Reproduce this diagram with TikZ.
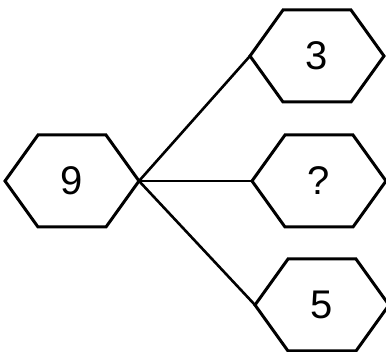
\documentclass[tikz,border=0pt]{standalone}
\usepackage{fontspec}
\setmainfont{Liberation Sans}
\usetikzlibrary{calc}

% one flat-topped hexagon round a number node
\newcommand{\hexcell}[3]{%
  \node[digit] (#1) at (#2) {#3};
  \draw[hexline] ($(#1.center)+(-67,0)$) coordinate (#1-w)
    -- ++(33,-46) -- ++(68,0) -- ++(33,46) coordinate (#1-e)
    -- ++(-33,46) -- ++(-68,0) -- cycle;
}

\begin{document}
\begin{tikzpicture}[x=1pt, y=-1pt,
    digit/.style={inner sep=0pt, font=\fontsize{40}{42}\selectfont},
    hexline/.style={line width=3pt, line join=miter},
    link/.style={line width=2.6pt}
  ]
  \useasboundingbox (0,0) rectangle (386,352);

  % left cell
  \hexcell{nine}{72,181}{9}

  % right cells
  \hexcell{three}{317,56}{3}
  \hexcell{quest}{319,181}{?}
  \hexcell{five}{322,305}{5}

  % connectors
  \draw[link] (nine-e) -- (three-w);
  \draw[link] (nine-e) -- (quest-w);
  \draw[link] (nine-e) -- (five-w);
\end{tikzpicture}
\end{document}
